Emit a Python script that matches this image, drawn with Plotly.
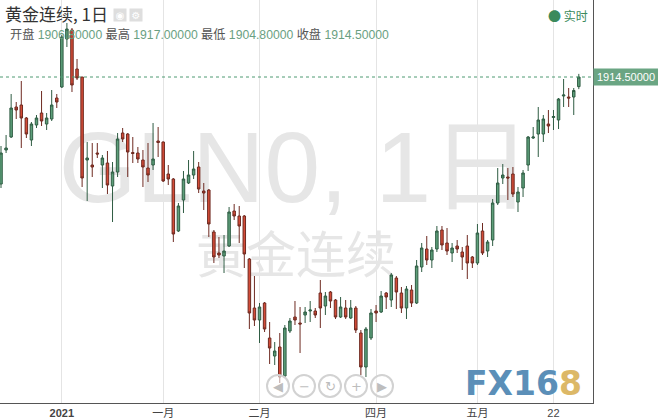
import plotly.graph_objects as go

# ---- data (daily OHLC, gold continuous) ----
opens = [1828.9, 1856.1, 1866.5, 1890.5, 1892.1, 1881.7, 1864.1, 1876.1, 1885.7, 1876.9,
         1880.9, 1897.7, 1906.5, 1944.9, 1952.1, 1920.9, 1914.5, 1848.1, 1844.1, 1853.7,
         1844.1, 1845.7, 1827.3, 1838.5, 1869.7, 1868.9, 1854.1, 1853.7, 1848.1, 1841.7,
         1844.1, 1863.3, 1862.5, 1836.9, 1832.9, 1791.3, 1816.1, 1829.7, 1836.1, 1842.5,
         1823.3, 1824.1, 1790.5, 1773.7, 1771.3, 1779.3, 1807.3, 1803.3, 1803.3, 1768.9,
         1729.7, 1720.1, 1733.7, 1705.7, 1691.3, 1698.5, 1675.3, 1711.3, 1722.5, 1717.7,
         1724.1, 1727.3, 1727.3, 1741.7, 1731.3, 1742.5, 1736.1, 1722.5, 1729.7, 1721.7,
         1729.7, 1709.7, 1682.5, 1705.7, 1727.3, 1726.5, 1741.7, 1736.1, 1753.7, 1741.7,
         1729.7, 1744.1, 1733.7, 1762.5, 1776.9, 1768.1, 1776.9, 1792.1, 1781.7, 1773.7,
         1779.3, 1774.5, 1779.3, 1770.5, 1765.7, 1791.3, 1775.3, 1784.1, 1813.7, 1833.7,
         1834.5, 1836.9, 1814.5, 1825.7, 1844.1, 1865.7, 1868.9, 1868.9, 1876.9, 1882.1,
         1880.1, 1899.3, 1898.5, 1898.5, 1906.8]
highs = [1859.3, 1868.1, 1900.9, 1894.5, 1911.3, 1882.5, 1878.5, 1884.1, 1903.3, 1885.7,
         1904.1, 1900.9, 1948.1, 1957.7, 1953.7, 1928.9, 1914.5, 1862.5, 1861.7, 1861.7,
         1852.1, 1855.3, 1846.5, 1869.7, 1873.7, 1869.7, 1866.5, 1858.5, 1856.1, 1861.7,
         1877.7, 1874.5, 1862.9, 1844.1, 1833.7, 1813.7, 1839.3, 1848.1, 1855.3, 1846.5,
         1829.7, 1824.9, 1792.1, 1786.5, 1788.1, 1810.5, 1812.9, 1811.3, 1804.1, 1769.7,
         1755.3, 1733.7, 1734.5, 1718.5, 1702.5, 1709.7, 1716.1, 1721.7, 1735.3, 1730.5,
         1730.5, 1735.3, 1729.7, 1752.1, 1742.5, 1743.3, 1736.9, 1738.5, 1736.1, 1736.1,
         1731.3, 1712.1, 1714.5, 1728.9, 1732.1, 1743.3, 1742.5, 1757.7, 1755.3, 1746.5,
         1747.3, 1748.1, 1768.1, 1781.7, 1787.3, 1778.5, 1795.3, 1795.3, 1793.7, 1781.7,
         1784.1, 1778.5, 1788.1, 1771.3, 1796.9, 1797.7, 1784.1, 1816.9, 1841.7, 1844.9,
         1841.7, 1842.5, 1826.5, 1840.1, 1867.3, 1874.5, 1890.5, 1884.1, 1888.1, 1888.1,
         1897.7, 1912.9, 1905.7, 1905.7, 1917.0]
lows = [1825.7, 1853.7, 1865.7, 1880.9, 1857.7, 1865.7, 1859.3, 1873.7, 1875.3, 1872.1,
        1879.3, 1889.7, 1905.7, 1938.5, 1902.5, 1912.1, 1826.5, 1815.3, 1834.5, 1849.7,
        1825.7, 1820.9, 1798.5, 1834.5, 1862.5, 1834.5, 1845.7, 1845.7, 1826.5, 1830.5,
        1840.1, 1850.5, 1830.5, 1828.1, 1782.5, 1790.5, 1805.7, 1828.9, 1832.9, 1821.7,
        1808.1, 1786.5, 1765.7, 1769.7, 1757.7, 1778.5, 1800.1, 1781.7, 1761.7, 1712.9,
        1715.3, 1701.7, 1710.5, 1684.9, 1684.1, 1669.7, 1674.5, 1709.7, 1716.1, 1693.7,
        1717.7, 1718.5, 1721.7, 1713.7, 1724.1, 1729.7, 1720.9, 1721.7, 1720.9, 1720.9,
        1709.7, 1676.1, 1674.5, 1704.1, 1718.5, 1725.7, 1728.9, 1730.5, 1728.9, 1725.7,
        1720.9, 1730.5, 1732.9, 1758.5, 1764.1, 1761.7, 1774.5, 1776.1, 1772.1, 1766.5,
        1773.7, 1760.1, 1752.9, 1761.7, 1764.1, 1772.1, 1770.5, 1779.3, 1812.1, 1828.9,
        1816.1, 1818.5, 1806.5, 1818.5, 1839.3, 1864.9, 1850.5, 1862.5, 1869.7, 1872.1,
        1872.9, 1890.5, 1890.5, 1884.1, 1904.8]
closes = [1853.7, 1857.7, 1889.7, 1888.1, 1881.7, 1868.9, 1876.9, 1881.7, 1879.3, 1881.7,
          1892.1, 1894.5, 1946.5, 1952.9, 1908.1, 1913.7, 1833.7, 1849.7, 1842.5, 1852.9,
          1849.7, 1828.1, 1838.5, 1864.9, 1864.9, 1854.5, 1853.3, 1848.9, 1842.5, 1836.1,
          1848.9, 1862.1, 1831.3, 1832.9, 1788.9, 1811.3, 1832.9, 1836.1, 1840.9, 1824.9,
          1821.7, 1796.9, 1770.5, 1772.1, 1775.3, 1806.5, 1803.3, 1795.3, 1772.9, 1725.7,
          1720.1, 1730.5, 1712.9, 1697.7, 1695.3, 1674.5, 1713.7, 1719.3, 1720.1, 1716.9,
          1726.5, 1728.1, 1724.1, 1729.7, 1739.3, 1735.3, 1722.5, 1730.5, 1722.5, 1729.7,
          1712.1, 1682.5, 1712.9, 1725.7, 1725.7, 1739.3, 1738.5, 1756.1, 1742.5, 1729.7,
          1744.9, 1733.7, 1763.3, 1777.7, 1768.1, 1776.1, 1791.3, 1780.1, 1775.3, 1777.7,
          1776.9, 1770.5, 1765.7, 1765.7, 1789.7, 1773.7, 1782.5, 1813.7, 1829.7, 1836.1,
          1833.7, 1820.9, 1822.5, 1837.7, 1866.5, 1866.5, 1880.1, 1880.9, 1875.3, 1882.9,
          1896.9, 1900.1, 1897.7, 1903.7, 1914.5]
tick_index = [12, 32, 51, 74, 94, 109]
tick_labels = ["<b>2021</b>", "一月", "二月", "四月", "五月", "22"]
last_open, last_high, last_low, last_close = "1906.80000", "1917.00000", "1904.80000", "1914.50000"

# ---- layout geometry (pixels) ----
W, H = 658, 418
PL, PR, PT, PB = 0, 65, 0, 15
PW, PH = W - PL - PR, H - PT - PB


def px(x):
    return x / PW


def py(y):
    return 1 - y / PH


CJK = "Noto Sans CJK SC, Liberation Sans, sans-serif"
LAT = "Liberation Sans, Noto Sans CJK SC, sans-serif"

fig = go.Figure()

# watermark (base subplot, drawn below the candles)
fig.add_trace(go.Scatter(x=[px(295)], y=[py(177)], mode="text", text=["GLN0, 1日"],
                         textfont=dict(size=100, color="#e6e6e6", family=LAT),
                         xaxis="x", yaxis="y", hoverinfo="skip", showlegend=False))
fig.add_trace(go.Scatter(x=[px(296)], y=[py(260)], mode="text", text=["黄金连续"],
                         textfont=dict(size=50, color="#e6e6e6", family=CJK),
                         xaxis="x", yaxis="y", hoverinfo="skip", showlegend=False))

fig.add_trace(go.Candlestick(
    x=list(range(len(opens))), open=opens, high=highs, low=lows, close=closes,
    xaxis="x2", yaxis="y2",
    increasing=dict(fillcolor="#5d9f7a", line=dict(color="#2f5c43", width=1)),
    decreasing=dict(fillcolor="#d44b37", line=dict(color="#6e2a21", width=1)),
    whiskerwidth=0, hoverinfo="skip", showlegend=False,
))

shapes = [dict(type="line", xref="paper", x0=0, x1=1, yref="y2", y0=1914.5, y1=1914.5,
               line=dict(color="#4f9a72", width=1, dash="dot"))]
annotations = []

# header
annotations.append(dict(x=px(3), y=py(14), xref="paper", yref="paper", xanchor="left", yanchor="middle",
                        text="黄金连续, 1日", showarrow=False,
                        font=dict(size=17, color="#333333", family=CJK)))
for cx, glyph in [(119.5, "◉"), (135.5, "⚙")]:
    annotations.append(dict(x=px(cx), y=py(15), xref="paper", yref="paper", xanchor="center", yanchor="middle",
                            text=glyph, showarrow=False, bgcolor="#dedede", width=12, height=12, borderpad=0,
                            font=dict(size=10, color="#ffffff", family="DejaVu Sans")))
val = "<span style='color:#6a9f82'>{}</span>"
info = ("开盘 " + val.format(last_open) + " 最高 " + val.format(last_high) +
        " 最低 " + val.format(last_low) + " 收盘 " + val.format(last_close))
annotations.append(dict(x=px(8), y=py(34), xref="paper", yref="paper", xanchor="left", yanchor="middle",
                        text=info, showarrow=False, font=dict(size=12.2, color="#555555", family=LAT)))
annotations.append(dict(x=px(546), y=py(15), xref="paper", yref="paper", xanchor="left", yanchor="middle",
                        text="<span style='font-size:13px'>●</span> 实时", showarrow=False,
                        font=dict(size=12, color="#3b8a5c", family=CJK)))

# price label
annotations.append(dict(x=1, y=1914.5, xref="paper", yref="y2", xanchor="left", yanchor="middle",
                        text=last_close, showarrow=False, bgcolor="#6aa583", borderpad=2, width=60,
                        font=dict(size=11, color="#ffffff", family=LAT)))

# navigation buttons
for cx, glyph in zip([278, 304, 330, 356, 382], ["◀", "−", "↻", "+", "▶"]):
    shapes.append(dict(type="circle", xref="paper", yref="paper",
                       x0=px(cx - 11), x1=px(cx + 11), y0=py(386 + 11), y1=py(386 - 11),
                       line=dict(color="#d2d2d2", width=2), fillcolor="rgba(255,255,255,0.55)"))
    annotations.append(dict(x=px(cx), y=py(386), xref="paper", yref="paper", xanchor="center", yanchor="middle",
                            text=glyph, showarrow=False,
                            font=dict(size=13, color="#bdbdbd", family="DejaVu Sans")))

# FX168 logo
annotations.append(dict(x=px(523), y=py(383), xref="paper", yref="paper", xanchor="center", yanchor="middle",
                        text="<b>FX16<span style='color:#dcb867'>8</span></b>", showarrow=False,
                        font=dict(size=33, color="#5b8fb8", family="DejaVu Sans")))

fig.update_layout(
    width=W, height=H, margin=dict(l=PL, r=PR, t=PT, b=PB),
    paper_bgcolor="white", plot_bgcolor="white", showlegend=False,
    xaxis=dict(range=[0, 1], visible=False, fixedrange=True),
    yaxis=dict(range=[0, 1], visible=False, fixedrange=True),
    xaxis2=dict(overlaying="x", anchor="y2", range=[-0.2, 116.8], tickmode="array",
                tickvals=tick_index, ticktext=tick_labels, showgrid=True, gridcolor="#e4e4e4",
                showline=True, linecolor="#555555", linewidth=1, ticks="", zeroline=False,
                tickfont=dict(size=11, color="#444444", family=LAT), rangeslider=dict(visible=False)),
    yaxis2=dict(overlaying="y", anchor="x2", side="right", range=[1653.7, 1976.1],
                showticklabels=False, showgrid=False, showline=True, linecolor="#555555",
                linewidth=1, ticks="", zeroline=False),
    shapes=shapes, annotations=annotations,
)

fig.write_html("out.html", config={"staticPlot": True},
               post_script="document.body.style.margin='0';document.body.style.overflow='hidden';")
